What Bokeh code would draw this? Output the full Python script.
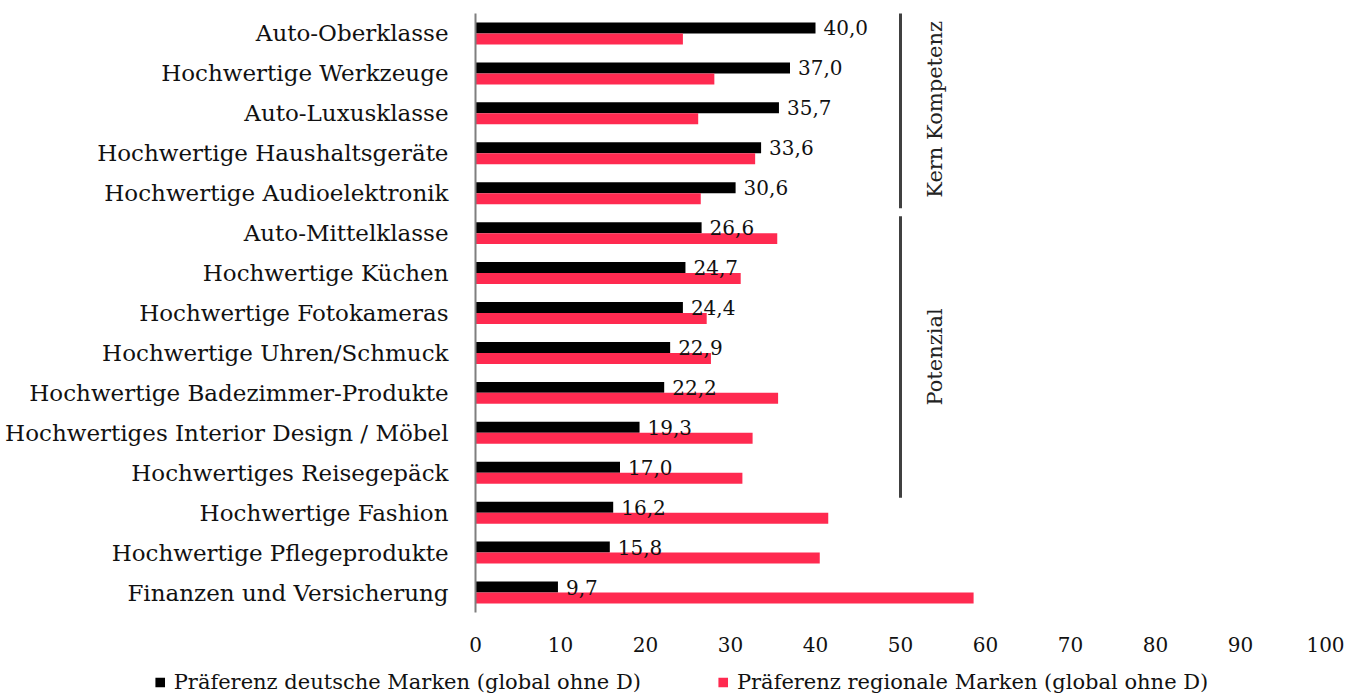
import math
from bokeh.plotting import figure
from bokeh.models import Range1d, ColumnDataSource, Legend, LegendItem, FixedTicker
from bokeh.core.properties import value
from bokeh.embed import file_html
from bokeh.resources import INLINE

categories = [
    "Auto-Oberklasse",
    "Hochwertige Werkzeuge",
    "Auto-Luxusklasse",
    "Hochwertige Haushaltsgeräte",
    "Hochwertige Audioelektronik",
    "Auto-Mittelklasse",
    "Hochwertige Küchen",
    "Hochwertige Fotokameras",
    "Hochwertige Uhren/Schmuck",
    "Hochwertige Badezimmer-Produkte",
    "Hochwertiges Interior Design / Möbel",
    "Hochwertiges Reisegepäck",
    "Hochwertige Fashion",
    "Hochwertige Pflegeprodukte",
    "Finanzen und Versicherung",
]
german = [40.0, 37.0, 35.7, 33.6, 30.6, 26.6, 24.7, 24.4, 22.9, 22.2, 19.3, 17.0, 16.2, 15.8, 9.7]
regional = [24.4, 28.1, 26.2, 32.9, 26.5, 35.5, 31.2, 27.2, 27.7, 35.6, 32.6, 31.4, 41.5, 40.5, 58.6]
series_names = ["Präferenz deutsche Marken (global ohne D)", "Präferenz regionale Marken (global ohne D)"]
group_names = ["Kern Kompetenz", "Potenzial"]
group_first = [0, 5]
group_last = [4, 11]
x_ticks = [0, 10, 20, 30, 40, 50, 60, 70, 80, 90, 100]
bracket_x = 50

BLACK = "#000000"
RED = "#FF2A50"
SERIF = "DejaVu Serif"

n = len(categories)
rows = list(range(n))
bh = 0.275

src = ColumnDataSource(dict(
    y=rows,
    y_de=[r - bh / 2 for r in rows],
    y_re=[r + bh / 2 for r in rows],
    de=german,
    re=regional,
    lab=[f"{v:.1f}".replace(".", ",") for v in german],
))

p = figure(width=1362, height=668, output_backend="svg", toolbar_location=None,
           x_range=Range1d(0, 100), y_range=Range1d(n - 0.5, -0.5),
           min_border_left=475, min_border_right=37, min_border_top=13, min_border_bottom=56)
p.outline_line_color = None
p.grid.visible = False
p.background_fill_color = "white"
p.border_fill_color = "white"

p.hbar(y="y_de", right="de", left=0, height=bh, source=src, fill_color=BLACK, line_color=None)
p.hbar(y="y_re", right="re", left=0, height=bh, source=src, fill_color=RED, line_color=None)

p.text(x="de", y="y_de", text="lab", source=src, x_offset=8,
       text_font=value(SERIF), text_font_size="20px", text_color="#111111",
       text_align="left", text_baseline="middle")

# group brackets (top/bottom padding per group, in row units)
pads = [(-0.575, 0.375), (-0.425, 0.625)]
for name, a, b, (pt, pb) in zip(group_names, group_first, group_last, pads):
    y0 = a + pt
    y1 = b + pb
    p.segment(x0=[bracket_x], x1=[bracket_x], y0=[y0], y1=[y1], line_color="#404040", line_width=3)
    p.text(x=[bracket_x], y=[(y0 + y1) / 2], text=[name], x_offset=34, angle=math.pi / 2,
           text_font=value(SERIF), text_font_size="21px", text_color="#222222",
           text_align="center", text_baseline="middle")

# y axis
ya = p.yaxis[0]
ya.ticker = FixedTicker(ticks=rows)
ya.major_label_overrides = {i: c for i, c in enumerate(categories)}
ya.major_tick_line_color = None
ya.minor_tick_line_color = None
ya.axis_line_color = "#7f7f7f"
ya.axis_line_width = 2
ya.major_label_standoff = 21
ya.major_label_text_font = SERIF
ya.major_label_text_font_size = "23px"
ya.major_label_text_color = "#111111"

# x axis
xa = p.xaxis[0]
xa.ticker = FixedTicker(ticks=x_ticks)
xa.axis_line_color = None
xa.major_tick_line_color = None
xa.minor_tick_line_color = None
xa.major_label_standoff = 18
xa.major_label_text_font = SERIF
xa.major_label_text_font_size = "20px"
xa.major_label_text_color = "#111111"

# legend strip below the chart (separate root, so its frame spans the full width)
lg = figure(width=1362, height=27, output_backend="svg", toolbar_location=None,
            x_range=Range1d(0, 1), y_range=Range1d(0, 1),
            min_border=0, min_border_left=0, min_border_right=0, min_border_top=0, min_border_bottom=0)
lg.axis.visible = False
lg.grid.visible = False
lg.outline_line_color = None
lg.background_fill_color = "white"
lg.border_fill_color = "white"
# legend-only proxy glyphs, placed outside the visible range
d_de = lg.hbar(y=[-5], right=[0], left=0, height=0.5, fill_color=BLACK, line_color=None)
d_re = lg.hbar(y=[-5], right=[0], left=0, height=0.5, fill_color=RED, line_color=None)
legend = Legend(items=[LegendItem(label=series_names[0], renderers=[d_de]),
                       LegendItem(label=series_names[1], renderers=[d_re])],
                orientation="horizontal", location="center",
                glyph_width=12, glyph_height=12, label_standoff=8, spacing=76,
                label_text_font=SERIF, label_text_font_size="21px", label_text_color="#111111",
                border_line_color=None, background_fill_alpha=0, padding=0, margin=0)
lg.add_layout(legend, "center")

open("out.html", "w").write(file_html([p, lg], INLINE))
